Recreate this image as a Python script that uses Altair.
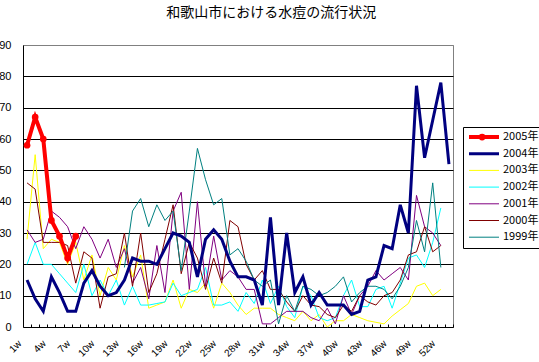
import altair as alt
import pandas as pd

weeks = list(range(1, 54))
series_names = ["2005年", "2004年", "2003年", "2002年", "2001年", "2000年", "1999年"]
colors = ["#FF0000", "#000080", "#FFFF00", "#00FFFF", "#800080", "#800000", "#008080"]
widths = [4, 3, 1, 1, 1, 1, 1]

v2005 = [58, 67, 60, 34, 29, 22, 29]
v2004 = [15, 9, 5, 16, 11, 5, 5, 14, 18, 13, 10, 11, 15, 22, 21, 21, 20, 25, 30, 29,
         27, 16, 28, 31, 28, 21, 16, 16, 15, 7, 35, 7, 30, 11, 16, 7, 11, 7, 7, 7,
         4, 5, 15, 16, 26, 25, 39, 30, 77, 54, 66, 78, 52]
v2003 = [28, 55, 25, 28, 27, 20, 27, 15, 23, 10, 19, 15, 26, 16, 23, 6, 7, 8, 15, 6,
         12, 11, 14, 6, 14, 11, 7, 4, 6, 6, 6, 4, 3, 2, 5, 2, 4, 0, 2, 2,
         4, 3, 2, 1.5, 1, 3.5, 5.5, 7.5, 13, 14, 10, 12]
v2002 = [20, 27, 20, 20, 17, 14, 11, 20, 10, 15, 10, 15, 7, 13, 7, 7, 7.5, 8, 14, 10,
         11, 12, 19, 7, 7, 8, 5, 11, 7.5, 15, 7.5, 13, 6.5, 3, 13, 10, 3, 2, 3, 10,
         15, 6.5, 6.5, 12, 13, 6, 14, 22, 23, 19, 27, 38]
v2001 = [31, 27, 28, 37, 35, 32, 25, 32, 28, 22, 28, 19, 25, 14, 19, 9, 26, 11, 37, 43,
         12, 40, 13, 29, 15, 18, 16, 12, 12, 1, 1, 3, 5, 5, 5, 3, 2, 6, 1, 10,
         4, 10, 13, 18, 15, 17, 19, 15, 42, 32, 30, 26]
v2000 = [46, 44, 27, 27, 27, 26, 14, 24, 22, 6, 16, 17, 30, 13, 30, 11, 17, 28, 39, 17,
         27, 22, 12, 22, 14, 34, 32, 20, 15, 18, 12, 12, 8, 5, 10, 7, 6.5, 4, 3, 7,
         5, 10, 8, 7, 10, 11, 15, 23, 24, 32, 24, 26]
v1999 = [None] * 12 + [19, 37, 41, 32, 39, 34, 37, 18,
         37, 57, 47, 39, 41, 23, 25, 21, 15, 13, 15, 1, 10, 5, 13, 12, 10, 11, 13, 16,
         8, 11, 13, 13, 12, 9, 13, 19, 34, 24, 46, 19]

all_values = [v2005, v2004, v2003, v2002, v2001, v2000, v1999]
rows = []
for name, vals in zip(series_names, all_values):
    for i, v in enumerate(vals):
        if v is not None:
            rows.append({"week": weeks[i], "series": name, "value": v})
df = pd.DataFrame(rows)

step = 430 / 53.0

def line_legend():
    return alt.Legend(
        title=None,
        orient="none",
        legendX=440,
        legendY=82,
        direction="vertical",
        symbolType="stroke",
        symbolSize=900,
        clipHeight=12,
        rowPadding=4.7,
        labelOffset=2,
        labelFontSize=11,
        labelFont="Noto Sans CJK JP",
        labelColor="black",
        strokeColor="black",
        padding=4,
        zindex=1,
    )

color = alt.Color("series:N", scale=alt.Scale(domain=series_names, range=colors), legend=line_legend())
swidth = alt.StrokeWidth(
    "series:N",
    scale=alt.Scale(type="ordinal", domain=series_names, range=widths),
    legend=line_legend(),
)

x_axis = alt.Axis(
    values=weeks,
    labelExpr="(datum.value - 1) % 3 == 0 ? datum.value + 'w' : ''",
    title=None,
    grid=False,
    domain=False,
    ticks=True,
    tickSize=3,
    tickColor="black",
    offset=-3,
    tickOffset=step / 2,
    labelOffset=-step / 2 - 11,
    labelAngle=-45,
    labelPadding=11,
    labelFontSize=10,
    labelFont="Liberation Sans",
    labelColor="black",
    labelOverlap=False,
    labelFlush=False,
    labelBound=False,
)
x_scale = alt.Scale(domain=[0.5, 53.5], nice=False, zero=False)

y_axis = alt.Axis(
    values=list(range(0, 100, 10)),
    title=None,
    ticks=False,
    labelPadding=12,
    labelFontSize=11,
    labelFont="Liberation Sans",
    labelColor="black",
    labelOverlap=False,
    domainColor="black",
    gridColor=alt.condition("datum.value == 90", alt.value("#808080"), alt.value("black")),
    gridOpacity=1,
    gridWidth=1,
)
y_scale = alt.Scale(domain=[0, 90], nice=False)

x = alt.X("week:Q", scale=x_scale, axis=x_axis)
y = alt.Y("value:Q", scale=y_scale, axis=y_axis)

base = alt.Chart(df).encode(x=x, y=y, color=color, strokeWidth=swidth)

thin = base.transform_filter(
    alt.FieldOneOfPredicate(field="series", oneOf=["2003年", "2002年", "2001年", "2000年", "1999年"])
).mark_line()
navy = base.transform_filter(alt.FieldEqualPredicate(field="series", equal="2004年")).mark_line()
red = base.transform_filter(alt.FieldEqualPredicate(field="series", equal="2005年")).mark_line()

pts = (
    alt.Chart(df)
    .transform_filter(alt.FieldEqualPredicate(field="series", equal="2005年"))
    .mark_point(filled=True, size=45, opacity=1, color="#FF0000")
    .encode(
        x=alt.X("week:Q", scale=x_scale, axis=x_axis),
        y=alt.Y("value:Q", scale=y_scale, axis=y_axis),
        shape=alt.Shape(
            "series:N",
            scale=alt.Scale(domain=["2005年"], range=["circle"]),
            legend=alt.Legend(
                title=None,
                orient="none",
                legendX=455.6,
                legendY=88.6,
                symbolSize=45,
                symbolFillColor="#FF0000",
                symbolStrokeWidth=0,
                labelOpacity=0,
                labelFontSize=1,
                padding=0,
                zindex=2,
            ),
        ),
    )
)

chart = (
    alt.layer(thin, navy, red, pts)
    .properties(
        width=430,
        height=282,
        autosize=alt.AutoSizeParams(type="none"),
        padding={"left": 23, "top": 45, "right": 86, "bottom": 35},
        background="white",
        title=alt.TitleParams(
            "和歌山市における水痘の流行状況",
            font="Noto Sans CJK JP",
            fontSize=14,
            fontWeight="normal",
            color="black",
            anchor="middle",
            frame="bounds",
            offset=19,
        ),
    )
    .configure_view(stroke="#808080", strokeWidth=1)
)

chart.save("out.html", embed_options={"renderer": "svg", "actions": False})
